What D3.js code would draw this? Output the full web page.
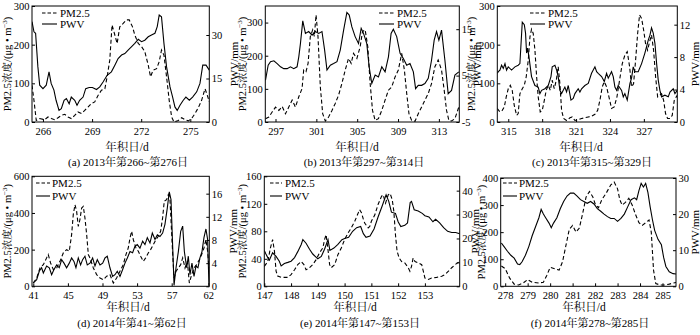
<!DOCTYPE html>
<html><head><meta charset="utf-8">
<script src="https://cdn.jsdelivr.net/npm/d3@7"></script>
<style>
body{margin:0;background:#fff}
svg{display:block}
text{font-family:"Liberation Serif","Times New Roman","Noto Serif CJK SC","Noto Sans CJK SC",serif;fill:#000}
</style></head><body>
<svg id="c" width="700" height="335"></svg>
<script>
// ---------- DATA ----------
const captions = ["(a) 2013年第266~第276日","(b) 2013年第297~第314日","(c) 2013年第315~第329日",
                  "(d) 2014年第41~第62日","(e) 2014年第147~第153日","(f) 2014年第278~第285日"];
const seriesNames = ["PM2.5","PWV"];
const xAxisTitle = "年积日/d";
const yRightTitle = "PWV/mm";

// x tick labels
const xTicksA = [266,269,272,275];
const xTicksB = [297,301,305,309,313];
const xTicksC = [315,318,321,324,327];
const xTicksD = [41,45,49,53,57,62];
const xTicksE = [147,148,149,150,151,152,153];
const xTicksF = [278,279,280,281,282,283,284,285];
// left (PM2.5) ticks
const yLTicksA = [0,100,200,300];
const yLTicksB = [0,100,200,300];
const yLTicksC = [0,100,200,300];
const yLTicksD = [0,200,400,600];
const yLTicksE = [0,40,80,120,160];
const yLTicksF = [0,100,200,300,400];
// right (PWV) ticks
const yRTicksA = [0,15,30];
const yRTicksB = [-5,5,15];
const yRTicksC = [0,4,8,12];
const yRTicksD = [0,4,8,12,16];
const yRTicksE = [0,10,20,30,40];
const yRTicksF = [0,10,20,30];

// series: [day of year, value]
const pmA = [[265.33,95],[265.45,56],[265.59,4],[265.8,9],[266.1,6],[266.31,13],[266.51,9],[266.71,6],[266.92,11],[267.12,17],[267.33,20],[267.53,13],[267.73,9],[267.94,17],[268.14,26],[268.35,22],[268.55,30],[268.76,39],[268.96,48],[269.16,52],[269.37,69],[269.57,82],[269.78,86],[269.92,117],[270.08,160],[270.22,251],[270.39,225],[270.53,203],[270.69,246],[270.9,255],[271.1,264],[271.27,264],[271.47,246],[271.61,225],[271.82,203],[272.02,195],[272.22,182],[272.43,147],[272.57,117],[272.73,134],[272.94,138],[273.1,156],[273.24,186],[273.39,173],[273.55,117],[273.71,56],[273.86,13],[274.0,0],[274.27,4],[274.47,11],[274.67,6],[274.88,3],[275.08,9],[275.29,22],[275.49,37],[275.69,56],[275.9,86],[276.04,69],[276.16,52]];
const pwvA = [[265.33,34.6],[265.45,31.1],[265.55,30.6],[265.69,19.0],[265.8,12.7],[266.0,11.5],[266.2,12.7],[266.37,17.3],[266.5,13.3],[266.67,11.0],[266.8,7.5],[266.98,4.0],[267.12,4.6],[267.29,7.5],[267.43,8.1],[267.6,6.3],[267.73,8.6],[267.94,7.5],[268.08,5.8],[268.24,7.5],[268.45,8.6],[268.61,11.5],[268.82,11.9],[269.02,11.9],[269.27,11.2],[269.47,12.1],[269.67,13.8],[269.92,16.1],[270.18,17.3],[270.39,19.6],[270.59,21.9],[270.8,23.1],[271.0,23.6],[271.2,24.8],[271.4,25.9],[271.61,27.1],[271.82,28.5],[272.02,27.7],[272.22,28.2],[272.43,29.4],[272.63,30.0],[272.84,30.6],[272.98,32.9],[273.1,36.9],[273.24,36.3],[273.39,27.1],[273.55,19.0],[273.76,12.1],[273.92,8.6],[274.06,5.2],[274.2,4.0],[274.37,5.8],[274.57,7.5],[274.73,8.6],[274.94,7.5],[275.14,8.6],[275.39,10.4],[275.59,13.3],[275.76,19.6],[275.96,19.6],[276.16,17.9]];

const pmB = [[296.02,10],[296.35,15],[296.67,30],[297.0,45],[297.33,35],[297.65,47],[297.98,25],[298.3,45],[298.63,66],[298.95,45],[299.28,76],[299.6,101],[299.76,157],[299.99,152],[300.19,177],[300.41,258],[300.64,278],[300.8,258],[300.97,323],[301.16,258],[301.39,106],[301.62,25],[301.88,3],[302.2,15],[302.53,35],[302.85,56],[303.18,81],[303.5,116],[303.83,157],[304.15,192],[304.41,177],[304.64,207],[304.97,192],[305.29,227],[305.52,273],[305.78,278],[306.04,227],[306.27,116],[306.5,35],[306.76,5],[307.08,10],[307.41,35],[307.73,66],[308.06,96],[308.38,106],[308.71,136],[309.03,157],[309.36,207],[309.62,157],[309.85,86],[310.07,25],[310.33,5],[310.66,2],[310.98,25],[311.31,45],[311.63,66],[311.96,86],[312.28,116],[312.61,167],[312.93,187],[313.26,157],[313.52,96],[313.75,35],[313.98,5],[314.24,3],[314.57,10],[314.95,45]];
const pwvB = [[296.02,4.0],[296.28,7.25],[296.51,8.0],[296.84,8.2],[297.16,7.6],[297.49,6.9],[297.81,6.5],[298.14,6.5],[298.46,6.9],[298.79,6.5],[299.11,6.9],[299.28,9.05],[299.44,11.9],[299.67,16.8],[299.93,14.1],[300.25,14.5],[300.58,13.7],[300.9,14.5],[301.23,14.1],[301.55,14.5],[301.81,10.5],[302.04,6.2],[302.37,7.25],[302.69,7.6],[303.02,8.0],[303.34,10.5],[303.67,14.8],[303.99,18.6],[304.22,18.05],[304.48,15.5],[304.8,13.4],[305.13,11.9],[305.39,15.2],[305.62,14.1],[305.94,11.9],[306.17,6.9],[306.43,3.3],[306.76,5.1],[307.08,4.7],[307.41,6.9],[307.73,5.8],[308.06,9.05],[308.32,14.1],[308.54,15.0],[308.87,13.4],[309.2,9.8],[309.52,8.7],[309.85,7.25],[310.17,7.6],[310.5,5.8],[310.72,2.2],[310.98,2.9],[311.31,2.9],[311.63,3.3],[311.96,4.4],[312.28,8.3],[312.54,12.65],[312.77,14.5],[313.0,12.65],[313.26,14.8],[313.59,8.3],[313.91,1.1],[314.24,1.8],[314.57,5.1],[314.95,5.8]];

const pmC = [[314.03,35],[314.26,26],[314.47,30],[314.65,39],[314.82,65],[315.0,86],[315.18,95],[315.35,82],[315.53,43],[315.74,17],[315.88,22],[316.03,73],[316.24,86],[316.42,95],[316.59,117],[316.77,160],[316.92,220],[317.06,240],[317.21,229],[317.36,186],[317.51,117],[317.65,65],[317.83,26],[318.01,30],[318.19,56],[318.36,82],[318.54,95],[318.72,82],[318.89,108],[319.07,86],[319.25,108],[319.42,143],[319.57,99],[319.72,30],[319.9,9],[320.16,4],[320.46,11],[320.66,13],[320.9,4],[321.19,6],[321.49,9],[321.78,11],[322.08,13],[322.37,15],[322.67,20],[322.91,30],[323.11,56],[323.32,91],[323.5,104],[323.7,91],[323.91,65],[324.14,35],[324.38,39],[324.62,65],[324.85,108],[325.09,151],[325.32,173],[325.53,182],[325.74,143],[325.91,91],[326.09,99],[326.27,160],[326.45,229],[326.62,277],[326.8,268],[326.98,238],[327.15,203],[327.33,186],[327.51,208],[327.68,225],[327.86,186],[328.04,117],[328.22,65],[328.39,69],[328.57,73],[328.75,56],[328.92,22],[329.1,9],[329.31,9],[329.51,17],[329.69,56],[329.87,65],[329.96,69]];
const pwvC = [[314.03,6.0],[314.12,6.2],[314.26,6.4],[314.41,7.0],[314.56,6.6],[314.71,7.2],[314.85,6.4],[315.0,6.8],[315.29,6.4],[315.59,6.8],[315.88,7.0],[316.03,7.2],[316.24,12.3],[316.42,12.0],[316.53,10.95],[316.62,8.5],[316.71,9.1],[316.83,8.06],[317.06,5.6],[317.36,4.5],[317.65,4.3],[317.8,3.5],[317.95,3.9],[318.24,4.1],[318.54,4.5],[318.78,5.6],[318.89,6.8],[319.13,7.0],[319.28,6.4],[319.42,5.6],[319.57,3.9],[319.72,3.5],[320.01,4.3],[320.16,3.7],[320.31,4.5],[320.55,2.7],[320.75,2.9],[320.9,3.5],[321.19,4.1],[321.34,3.7],[321.49,4.1],[321.78,4.5],[322.08,4.75],[322.37,6.0],[322.67,6.8],[322.82,6.2],[322.96,6.0],[323.26,5.6],[323.5,5.0],[323.7,6.0],[323.85,5.4],[324.14,6.2],[324.29,5.6],[324.44,4.3],[324.59,3.9],[324.73,4.5],[325.03,3.9],[325.18,3.1],[325.32,3.5],[325.53,2.7],[325.77,4.75],[325.91,5.4],[326.06,6.8],[326.21,6.2],[326.5,6.2],[326.8,7.2],[327.09,8.5],[327.39,10.1],[327.54,10.7],[327.68,11.6],[327.83,10.95],[327.98,9.7],[328.13,7.2],[328.27,5.2],[328.42,3.9],[328.57,3.1],[328.86,3.3],[329.16,3.1],[329.31,3.7],[329.6,4.1],[329.75,3.5],[329.96,3.9]];

const pmD = [[41.0,18],[41.39,45],[41.77,100],[42.16,118],[42.54,155],[42.73,173],[43.0,127],[43.31,91],[43.7,100],[44.08,136],[44.47,182],[44.85,200],[45.16,191],[45.43,282],[45.62,391],[45.82,445],[46.01,409],[46.2,327],[46.39,364],[46.59,427],[46.78,436],[46.97,373],[47.17,282],[47.36,173],[47.55,155],[47.94,100],[48.32,64],[48.71,45],[49.09,36],[49.48,55],[49.86,64],[50.25,18],[50.63,45],[51.02,82],[51.4,118],[51.71,173],[51.98,209],[52.18,264],[52.37,300],[52.56,255],[52.87,209],[53.14,191],[53.41,164],[53.72,136],[53.99,155],[54.29,182],[54.56,200],[54.87,227],[55.18,255],[55.45,273],[55.72,300],[55.95,373],[56.14,464],[56.41,473],[56.61,500],[56.8,473],[57.14,173],[57.32,45],[57.59,82],[57.91,100],[58.23,118],[58.5,155],[58.82,100],[59.14,136],[59.41,18],[59.73,64],[60.05,100],[60.41,118],[60.77,145],[61.09,173],[61.41,209],[61.68,255],[61.91,191],[62.09,100]];
const pwvD = [[41.0,0.58],[41.39,1.15],[41.69,2.6],[41.96,3.2],[42.16,2.3],[42.54,3.5],[42.85,3.2],[43.12,2.0],[43.39,2.9],[43.7,3.7],[44.0,3.2],[44.28,4.6],[44.55,4.0],[44.85,3.2],[45.16,4.0],[45.43,4.9],[45.7,4.3],[45.93,3.2],[46.2,4.9],[46.47,3.7],[46.7,4.6],[46.97,5.2],[47.24,3.7],[47.55,4.0],[47.86,4.9],[48.13,3.5],[48.4,4.6],[48.71,3.7],[49.02,4.0],[49.29,4.9],[49.55,5.2],[49.86,3.2],[50.17,1.7],[50.44,2.0],[50.71,2.6],[51.02,1.7],[51.33,2.9],[51.6,4.0],[51.87,4.9],[52.18,6.0],[52.48,5.8],[52.75,6.9],[53.02,7.2],[53.33,6.6],[53.64,7.8],[53.91,7.2],[54.18,8.4],[54.49,7.5],[54.76,9.2],[55.07,8.1],[55.34,8.9],[55.64,8.6],[55.95,9.2],[56.22,10.7],[56.49,13.5],[56.72,16.3],[56.92,15.0],[57.14,6.6],[57.32,0.17],[57.59,3.2],[57.91,6.0],[58.23,9.5],[58.5,10.4],[58.73,6.0],[59.05,3.2],[59.27,5.2],[59.5,2.0],[59.77,4.0],[60.05,1.7],[60.32,3.5],[60.59,3.2],[60.86,4.9],[61.14,6.0],[61.41,8.4],[61.68,9.9],[61.91,8.1],[62.09,0.3]];

const pmE = [[147.0,29],[147.13,36],[147.23,56],[147.31,68],[147.38,51],[147.44,22],[147.5,15],[147.63,13],[147.88,13],[148.0,17],[148.13,24],[148.25,31.5],[148.38,36],[148.48,31.5],[148.56,24],[148.69,27],[148.81,31.5],[148.94,39],[149.06,48.5],[149.19,56],[149.25,68],[149.31,75],[149.38,53],[149.44,31.5],[149.5,27],[149.63,31.5],[149.75,46],[149.88,56],[150.0,68],[150.13,77.6],[150.25,85],[150.38,94.5],[150.48,104],[150.56,111.5],[150.63,107],[150.69,99],[150.75,92],[150.88,85],[150.94,87],[151.0,94.5],[151.13,104],[151.25,119],[151.38,131],[151.44,133],[151.53,121],[151.63,133],[151.7,135],[151.78,126],[151.84,109],[151.9,75],[151.96,51],[152.04,41],[152.13,36],[152.25,34],[152.38,27],[152.44,22],[152.5,29],[152.56,41],[152.63,36],[152.75,34],[152.88,31.5],[152.94,22],[153.0,12],[153.13,10],[153.25,12],[153.44,13],[153.63,14.5],[153.75,17],[153.88,22],[154.0,27],[154.13,31.5],[154.29,36]];
const pwvE = [[147.0,15.0],[147.06,13.5],[147.13,12.0],[147.19,11.0],[147.31,14.0],[147.44,12.5],[147.56,10.5],[147.63,8.5],[147.75,9.5],[147.88,10.0],[148.0,10.5],[148.13,12.0],[148.25,14.5],[148.38,17.5],[148.44,19.5],[148.56,18.0],[148.69,15.5],[148.81,13.5],[149.0,11.5],[149.13,12.5],[149.25,15.5],[149.38,19.5],[149.45,15.0],[149.6,16.0],[149.75,17.5],[149.9,19.5],[150.0,20.0],[150.15,20.5],[150.3,23.0],[150.45,24.5],[150.6,25.0],[150.7,22.0],[150.8,20.5],[150.95,21.0],[151.1,24.0],[151.25,29.0],[151.4,33.5],[151.55,38.3],[151.65,35.5],[151.75,31.0],[151.9,30.5],[152.0,27.0],[152.1,25.0],[152.25,25.5],[152.35,26.5],[152.45,35.0],[152.5,35.5],[152.6,32.0],[152.75,31.5],[152.9,30.5],[153.0,29.5],[153.15,29.0],[153.3,27.0],[153.4,28.0],[153.55,26.5],[153.7,24.5],[153.85,23.0],[154.0,22.5],[154.15,22.5],[154.3,22.0]];

const pmF = [[277.83,75],[278.0,65],[278.2,30],[278.4,8],[278.6,5],[278.8,12],[279.0,25],[279.2,15],[279.5,12],[279.7,15],[279.85,40],[280.0,70],[280.2,65],[280.4,60],[280.55,90],[280.7,150],[280.85,210],[281.0,225],[281.15,200],[281.3,215],[281.45,270],[281.6,330],[281.75,350],[281.9,330],[282.0,305],[282.15,290],[282.3,320],[282.5,345],[282.7,375],[282.85,385],[283.0,360],[283.1,320],[283.2,300],[283.35,310],[283.5,325],[283.65,300],[283.8,265],[283.95,235],[284.1,225],[284.25,235],[284.4,245],[284.5,200],[284.6,60],[284.7,10],[284.9,5],[285.1,5],[285.3,8],[285.47,12],[285.6,14]];
const pwvF = [[277.83,12.0],[277.95,11.0],[278.1,9.7],[278.25,8.6],[278.4,7.8],[278.55,6.2],[278.65,6.0],[278.75,6.8],[278.9,8.6],[279.05,11.0],[279.2,14.0],[279.35,16.5],[279.5,19.0],[279.6,21.3],[279.7,20.0],[279.8,19.0],[279.95,17.5],[280.05,16.2],[280.15,17.5],[280.3,19.0],[280.45,21.5],[280.6,23.5],[280.75,25.0],[280.9,25.8],[281.05,25.8],[281.2,25.0],[281.35,24.0],[281.5,23.5],[281.65,23.0],[281.8,23.5],[281.95,22.8],[282.1,21.5],[282.25,20.8],[282.4,20.0],[282.55,19.3],[282.7,18.8],[282.85,18.8],[283.0,18.0],[283.15,18.8],[283.3,20.0],[283.45,22.0],[283.6,24.0],[283.75,24.5],[283.85,24.0],[283.95,26.5],[284.05,28.5],[284.15,27.5],[284.25,28.5],[284.35,26.0],[284.45,22.0],[284.55,18.5],[284.65,15.5],[284.8,13.0],[284.95,11.5],[285.05,8.0],[285.15,5.5],[285.3,4.0],[285.47,3.5],[285.6,3.4]];

// axis domains
const xDomA=[265.33,276.16], xDomB=[296,315], xDomC=[314.03,329.96], xDomD=[40.85,57,62.14], xDomE=[147,154.3], xDomF=[277.8,285.6];
const yLDomA=[0,300], yLDomB=[0,350], yLDomC=[0,300], yLDomD=[0,600], yLDomE=[0,160], yLDomF=[0,400];
const yRDomA=[0,40], yRDomB=[-5,20], yRDomC=[0,14.3], yRDomD=[0,19], yRDomE=[0,46], yRDomF=[0,30];

// ---------- LAYOUT ----------
const panels = [
 {pm:pmA,pwv:pwvA,xd:xDomA,xr:[32,209.3],top:6,bot:122,xt:xTicksA,yld:yLDomA,ylt:yLTicksA,yrd:yRDomA,yrt:yRTicksA,cap:captions[0],lg:[42,57,60,13,24],ylb:11,yrb:238,xlx:127,xly:151,cx:128,cy:166},
 {pm:pmB,pwv:pwvB,xd:xDomB,xr:[265.3,459.3],top:6,bot:122,xt:xTicksB,yld:yLDomB,ylt:yLTicksB,yrd:yRDomB,yrt:yRTicksB,cap:captions[1],lg:[379,394,397,13,24],ylb:245.5,yrb:481,xlx:357,xly:151,cx:364,cy:166},
 {pm:pmC,pwv:pwvC,xd:xDomC,xr:[497.3,677.3],top:6,bot:122,xt:xTicksC,yld:yLDomC,ylt:yLTicksC,yrd:yRDomC,yrt:yRTicksC,cap:captions[2],lg:[530,545,548,13,24],ylb:475,yrb:698.5,xlx:581,xly:151,cx:592,cy:166},
 {pm:pmD,pwv:pwvD,xd:xDomD,xr:[32,171.7,209.3],top:176.3,bot:286.3,xt:xTicksD,yld:yLDomD,ylt:yLTicksD,yrd:yRDomD,yrt:yRTicksD,cap:captions[3],lg:[36,50,52,183,196],ylb:11,yrb:237,xlx:128,xly:311,cx:132,cy:327},
 {pm:pmE,pwv:pwvE,xd:xDomE,xr:[264.3,459.7],top:176.3,bot:286.3,xt:xTicksE,yld:yLDomE,ylt:yLTicksE,yrd:yRDomE,yrt:yRTicksE,cap:captions[4],lg:[270,282,285,183,196],ylb:245.5,yrb:478.5,xlx:355,xly:311,cx:360,cy:327},
 {pm:pmF,pwv:pwvF,xd:xDomF,xr:[500.7,676],top:178,bot:286.3,xt:xTicksF,yld:yLDomF,ylt:yLTicksF,yrd:yRDomF,yrt:yRTicksF,cap:captions[5],lg:[503,517,519,183,196],ylb:484.5,yrb:698.5,xlx:584,xly:311,cx:590,cy:327}
];

const svg = d3.select('#c');
const DASH = "4,2.5";
const fmt = d => String(d);

panels.forEach((p,i) => {
  const x = d3.scaleLinear().domain(p.xd).range(p.xr);
  const x0 = p.xr[0], x1 = p.xr[p.xr.length-1];
  const yl = d3.scaleLinear().domain(p.yld).range([p.bot,p.top]);
  const yr = d3.scaleLinear().domain(p.yrd).range([p.bot,p.top]);
  const g = svg.append('g');

  const cid = 'clip'+i;
  g.append('clipPath').attr('id',cid).append('rect')
    .attr('x',x0).attr('y',p.top).attr('width',x1-x0).attr('height',p.bot-p.top);

  const lineL = d3.line().x(d=>x(d[0])).y(d=>yl(d[1]));
  const lineR = d3.line().x(d=>x(d[0])).y(d=>yr(d[1]));
  const plot = g.append('g').attr('clip-path',`url(#${cid})`);
  plot.append('path').datum(p.pm).attr('d',lineL).attr('fill','none')
    .attr('stroke','#000').attr('stroke-width',1.1).attr('stroke-dasharray',DASH);
  plot.append('path').datum(p.pwv).attr('d',lineR).attr('fill','none')
    .attr('stroke','#000').attr('stroke-width',1.1);

  // axes
  const ax = g.append('g').attr('transform',`translate(0,${p.bot})`)
    .call(d3.axisBottom(x).tickValues(p.xt).tickSize(-3).tickPadding(5.5).tickFormat(fmt));
  const al = g.append('g').attr('transform',`translate(${x0},0)`)
    .call(d3.axisLeft(yl).tickValues(p.ylt).tickSize(-3).tickPadding(2.5).tickFormat(fmt));
  const ar = g.append('g').attr('transform',`translate(${x1},0)`)
    .call(d3.axisRight(yr).tickValues(p.yrt).tickSize(-3).tickPadding(2.5).tickFormat(fmt));
  [ax,al,ar].forEach(a => {
    a.select('.domain').remove();
    a.attr('font-family',null).attr('font-size',null);
    a.selectAll('text').attr('font-size','10.5px');
    a.selectAll('line').attr('stroke','#000');
  });

  // frame
  g.append('rect').attr('x',x0).attr('y',p.top).attr('width',x1-x0).attr('height',p.bot-p.top)
    .attr('fill','none').attr('stroke','#000').attr('stroke-width',1);

  // legend
  const [lx0,lx1,tx,ly1,ly2] = p.lg;
  g.append('line').attr('x1',lx0).attr('x2',lx1).attr('y1',ly1).attr('y2',ly1)
    .attr('stroke','#000').attr('stroke-width',1.1).attr('stroke-dasharray','3.5,2');
  g.append('line').attr('x1',lx0).attr('x2',lx1).attr('y1',ly2).attr('y2',ly2)
    .attr('stroke','#000').attr('stroke-width',1.1);
  g.append('text').attr('x',tx).attr('y',ly1+4).attr('font-size','11px').text(seriesNames[0]);
  g.append('text').attr('x',tx).attr('y',ly2+4).attr('font-size','11px').text(seriesNames[1]);

  // axis titles
  const yc = (p.top+p.bot)/2;
  const tl = g.append('text').attr('transform',`translate(${p.ylb},${yc}) rotate(-90)`)
    .attr('text-anchor','middle').attr('font-size','10.5px');
  tl.append('tspan').text('PM2.5浓度/(μg • m');
  tl.append('tspan').attr('baseline-shift','super').attr('font-size','7px').text('−3');
  tl.append('tspan').text(')');
  g.append('text').attr('transform',`translate(${p.yrb},${yc}) rotate(-90)`)
    .attr('text-anchor','middle').attr('font-size','11px').text(yRightTitle);
  g.append('text').attr('x',p.xlx).attr('y',p.xly).attr('text-anchor','middle')
    .attr('font-size','11.5px').text(xAxisTitle);
  g.append('text').attr('x',p.cx).attr('y',p.cy).attr('text-anchor','middle')
    .attr('font-size','11px').text(p.cap);
});
</script>
</body></html>
